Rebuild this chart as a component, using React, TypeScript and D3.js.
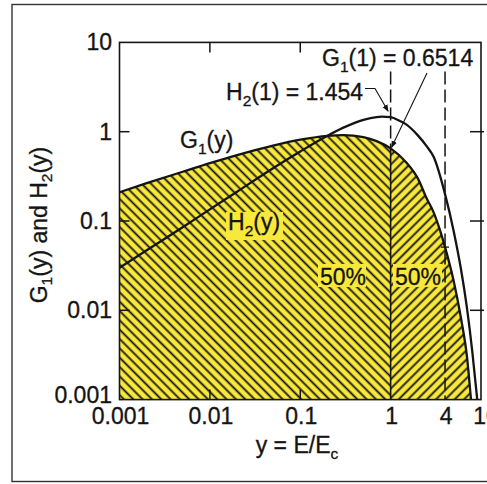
import React from 'react';
import * as d3 from 'd3';

// ---- data ----
const g1X = [0.001, 0.002, 0.005, 0.01, 0.02, 0.05, 0.1, 0.2, 0.3, 0.5, 0.7, 1, 1.5, 2, 2.5, 3, 3.5, 4, 5, 6, 7, 7.75, 8.5];
const g1Y = [0.21, 0.265, 0.356, 0.445, 0.548, 0.70, 0.815, 0.90, 0.916, 0.87, 0.785, 0.6514, 0.45, 0.30, 0.18, 0.124, 0.08, 0.051, 0.021, 0.0082, 0.003, 0.001, 0.00035];
const h2X = [0.001, 0.002, 0.005, 0.01, 0.02, 0.05, 0.1, 0.2, 0.3, 0.5, 0.7, 0.8, 1, 1.25, 1.5, 2, 2.5, 3, 4, 5, 6, 7, 8, 9, 10];
const h2Y = [0.03, 0.047, 0.085, 0.135, 0.213, 0.39, 0.60, 0.90, 1.11, 1.36, 1.46, 1.475, 1.454, 1.33, 1.2, 0.91, 0.69, 0.52, 0.20, 0.076, 0.029, 0.0105, 0.0035, 0.0011, 0.00035];
const xTicks = [0.001, 0.01, 0.1, 1, 4, 10];
const xTickLabels = ['0.001', '0.01', '0.1', '1', '4', '10'];
const yTicks = [0.001, 0.01, 0.1, 1, 10];
const yTickLabels = ['0.001', '0.01', '0.1', '1', '10'];
const splitX = 1;
const markX = 4;
const g1AtOne = 0.6514;
const h2AtOne = 1.454;

const W = 487, H = 484;
const L = 119.5, R = 481, T = 42.4, B = 399.6;
const YELLOW = '#f8e83c';
const INK = '#141414';
const FONT = 'Liberation Sans, Arial, Helvetica, sans-serif';

export default function App() {
  const x = d3.scaleLog().domain([0.001, 10]).range([L, R]);
  const y = d3.scaleLog().domain([0.001, 10]).range([B, T]);

  const g1 = g1X.map((v, i) => [v, g1Y[i]] as [number, number]);
  const h2 = h2X.map((v, i) => [v, h2Y[i]] as [number, number]);

  const line = d3.line<[number, number]>().x(d => x(d[0])).y(d => y(d[1])).curve(d3.curveMonotoneX);
  const area = d3.area<[number, number]>().x(d => x(d[0])).y0(B + 20).y1(d => y(d[1])).curve(d3.curveMonotoneX);

  const xs = x(splitX);
  const x4 = x(markX);
  const yG1 = y(g1AtOne);
  const yH2 = y(h2AtOne);
  const dashTop = 71.5;
  const fs = 23;
  const sub = 15.5;
  const hp = 6.6;
  const textStyle = { stroke: INK, strokeWidth: 0.3 } as React.CSSProperties;

  return (
    <svg width={W} height={H} style={{ position: 'absolute', left: 0, top: 0, background: '#fff' }} fontFamily={FONT}>
      <defs>
        <pattern id="hatchL" patternUnits="userSpaceOnUse" width={hp} height={hp} patternTransform="rotate(-45)">
          <rect width={hp} height={hp} fill={YELLOW} />
          <line x1={hp / 2} y1={-1} x2={hp / 2} y2={hp + 1} stroke={INK} strokeWidth={1.8} />
        </pattern>
        <pattern id="hatchR" patternUnits="userSpaceOnUse" width={hp} height={hp} patternTransform="rotate(45)">
          <rect width={hp} height={hp} fill={YELLOW} />
          <line x1={hp / 2} y1={-1} x2={hp / 2} y2={hp + 1} stroke={INK} strokeWidth={1.8} />
        </pattern>
        <clipPath id="plot"><rect x={L} y={T} width={R - L} height={B - T} /></clipPath>
        <clipPath id="leftPart"><rect x={L} y={T} width={xs - L} height={B - T} /></clipPath>
        <clipPath id="rightPart"><rect x={xs} y={T} width={R - xs} height={B - T} /></clipPath>
        <marker id="arrow" viewBox="0 0 10 10" refX={9} refY={5} markerWidth={7} markerHeight={7} orient="auto" markerUnits="userSpaceOnUse">
          <path d="M0,1 L10,5 L0,9 Z" fill={INK} />
        </marker>
      </defs>

      {/* outer frame */}
      <rect x={12} y={4.5} width={490} height={477} fill="none" stroke="#333" strokeWidth={1.4} />

      {/* hatched areas */}
      <g clipPath="url(#leftPart)"><path d={area(g1) || ''} fill="url(#hatchL)" /></g>
      <g clipPath="url(#rightPart)"><path d={area(g1) || ''} fill="url(#hatchR)" /></g>

      {/* label backgrounds */}
      <rect x={226} y={212} width={57} height={28} fill={YELLOW} />
      <rect x={318} y={264} width={48} height={23} fill={YELLOW} />
      <rect x={393} y={264} width={49} height={23} fill={YELLOW} />

      {/* dashed & vertical markers */}
      <line x1={xs} x2={xs} y1={yG1} y2={B} stroke={INK} strokeWidth={1.6} />
      <line x1={xs} x2={xs} y1={dashTop} y2={yG1} stroke={INK} strokeWidth={1.5} strokeDasharray="13,5" />
      <line x1={x4} x2={x4} y1={dashTop} y2={B} stroke={INK} strokeWidth={1.5} strokeDasharray="13,5" />
      <line x1={x4 - 4} x2={x4 + 4} y1={y(g1Y[g1X.indexOf(markX)])} y2={y(g1Y[g1X.indexOf(markX)])} stroke={INK} strokeWidth={1.3} />

      {/* curves */}
      <g clipPath="url(#plot)">
        <path d={line(h2) || ''} fill="none" stroke={INK} strokeWidth={2.3} />
        <path d={line(g1) || ''} fill="none" stroke={INK} strokeWidth={2.3} />
      </g>

      {/* axes box */}
      <rect x={L} y={T} width={R - L} height={B - T} fill="none" stroke={INK} strokeWidth={1.6} />
      {xTicks.filter(t => t > 0.001 && t < 1).map(t => (
        <g key={'xt' + t}>
          <line x1={x(t)} x2={x(t)} y1={B} y2={B - 10} stroke={INK} strokeWidth={1.5} />
          <line x1={x(t)} x2={x(t)} y1={T} y2={T + 10} stroke={INK} strokeWidth={1.5} />
        </g>
      ))}
      {yTicks.filter(t => t > 0.001 && t < 10).map(t => (
        <g key={'yt' + t}>
          <line x1={L} x2={L + 10} y1={y(t)} y2={y(t)} stroke={INK} strokeWidth={1.5} />
          <line x1={R - 11} x2={R + 3} y1={y(t)} y2={y(t)} stroke={INK} strokeWidth={1.5} />
        </g>
      ))}

      {/* tick labels */}
      <g fontSize={fs} fill={INK} style={textStyle}>
        {xTicks.map((t, i) => (
          <text key={'xl' + t} x={x(t) + (t === 10 ? 5 : 1)} y={423.5} textAnchor="middle">{xTickLabels[i]}</text>
        ))}
        {yTicks.map((t, i) => (
          <text key={'yl' + t} x={112} y={y(t) + (t === 0.001 ? 3.5 : 8)} textAnchor="end">{yTickLabels[i]}</text>
        ))}
      </g>

      {/* axis titles */}
      <text x={297} y={453} fontSize={fs} fill={INK} textAnchor="middle" style={textStyle}>
        y = E/E<tspan fontSize={sub} dy={6}>c</tspan>
      </text>
      <text transform="translate(47,225) rotate(-90)" fontSize={fs} fill={INK} textAnchor="middle" style={textStyle}>
        G<tspan fontSize={sub} dy={5}>1</tspan><tspan dy={-5}>(y) and H</tspan><tspan fontSize={sub} dy={5}>2</tspan><tspan dy={-5}>(y)</tspan>
      </text>

      {/* curve labels */}
      <g fontSize={fs} fill={INK} style={textStyle}>
        <text x={180} y={148}>G<tspan fontSize={sub} dy={6}>1</tspan><tspan dy={-6}>(y)</tspan></text>
        <text x={228} y={230}>H<tspan fontSize={sub} dy={6}>2</tspan><tspan dy={-6}>(y)</tspan></text>
        <text x={320} y={285}>50%</text>
        <text x={395} y={285}>50%</text>
        <text x={226} y={99.5}>H<tspan fontSize={sub} dy={6}>2</tspan><tspan dy={-6}>(1) = 1.454</tspan></text>
        <text x={322} y={65.5}>G<tspan fontSize={sub} dy={6}>1</tspan><tspan dy={-6}>(1) = 0.6514</tspan></text>
      </g>

      {/* leader arrows */}
      <path d={`M365,88.5 L375,88.5 L${xs - 2.5},${yH2 - 6}`} fill="none" stroke={INK} strokeWidth={1.1} markerEnd="url(#arrow)" />
      <path d={`M427,73 L${xs + 1},${yG1 - 1}`} fill="none" stroke={INK} strokeWidth={1.1} markerEnd="url(#arrow)" />
    </svg>
  );
}
